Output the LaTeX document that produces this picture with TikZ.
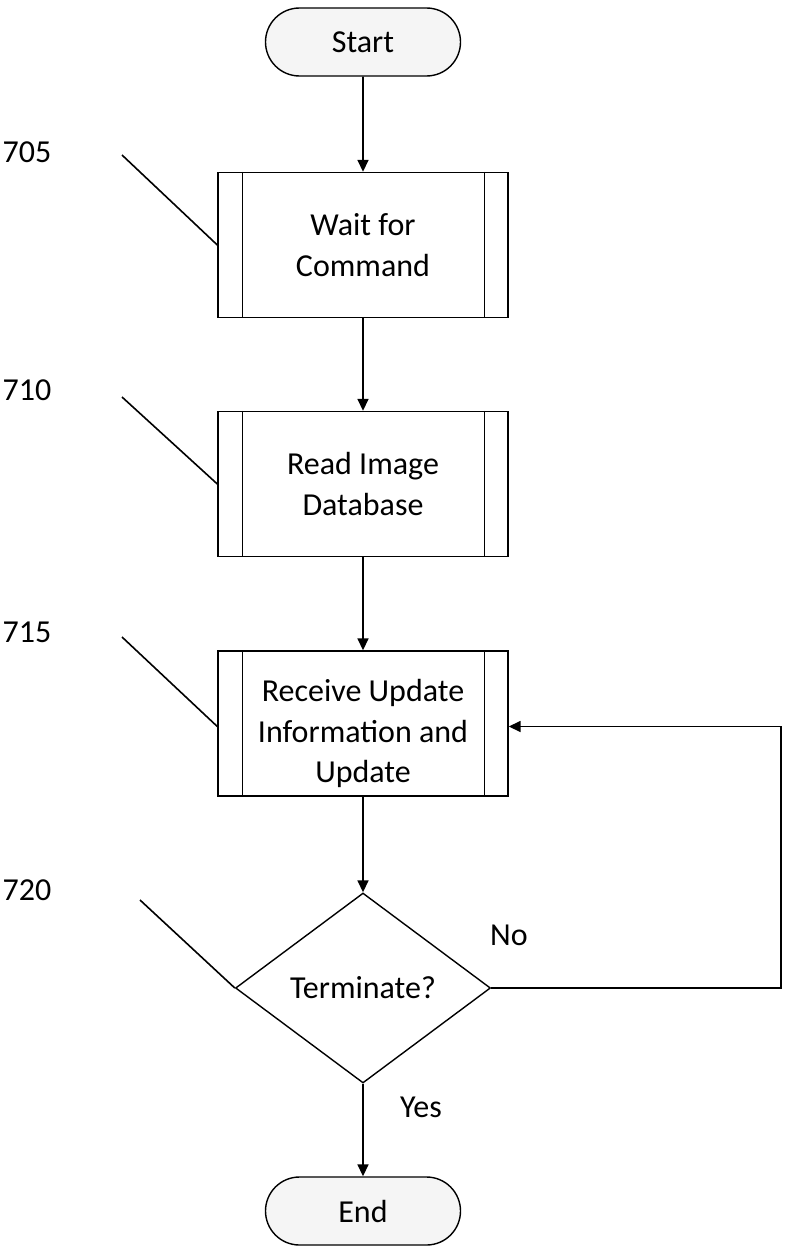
\documentclass[tikz,border=0pt]{standalone}
\usepackage{fontspec}
\setmainfont{Carlito}
\usetikzlibrary{shapes.geometric,shapes.misc,calc,arrows.meta}
\begin{document}
\begin{tikzpicture}[x=1pt,y=-1pt,
  every node/.style={font=\fontsize{32}{40.5}\selectfont},
  term/.style={draw, rounded rectangle, minimum width=195pt, minimum height=68pt,
    fill=black!4, line width=1.4pt, inner sep=0pt},
  proc/.style={draw, rectangle, minimum width=290pt, minimum height=145pt,
    align=center, line width=1.4pt, inner sep=0pt},
  decision/.style={draw, diamond, minimum width=255pt, minimum height=190pt,
    inner sep=0pt, line width=1.4pt},
  flow/.style={line width=1.6pt, -{Triangle[length=12pt,width=11pt]}},
  leader/.style={line width=1.6pt},
  bar/.style={line width=1.4pt}
]
\useasboundingbox (0,0) rectangle (798,1255);

% terminals, steps and decision
\node[term] (start) at (363,42) {Start};
\node[proc] (s705) at (363,245) {Wait for\\Command};
\node[proc] (s710) at (363,484) {Read Image\\Database};
\node[proc, label={[name=t715, align=center, yshift=-10pt]center:Receive Update\\Information and\\Update}]
  (s715) at (363,723.5) {};
\node[decision] (dec) at (363,988) {Terminate?};
\node[term] (end) at (363,1211) {End};

% predefined-process side bars
\foreach \b in {s705,s710,s715}{
  \draw[bar] ($(\b.north west)+(25,0)$) -- ($(\b.south west)+(25,0)$);
  \draw[bar] ($(\b.north east)+(-24,0)$) -- ($(\b.south east)+(-24,0)$);
}

% main flow
\draw[flow] (start) -- (s705);
\draw[flow] (s705) -- (s710);
\draw[flow] (s710) -- (s715);
\draw[flow] (s715) -- (dec);
\draw[flow] (dec) -- (end);

% "No" loop back to the update step
\coordinate (loop) at ($(s715.east)+(272,3)$);
\coordinate (entry) at ($(s715.east)+(0,3)$);
\draw[flow] (dec.east) -| (loop) -- (entry);

\node (no) at (509,935) {No};
\node (yes) at (421,1107) {Yes};

% reference numerals with leader lines
\node (n705) at (27,152) {705};
\node (n710) at (27,390) {710};
\node (n715) at (27,632) {715};
\node (n720) at (27,890) {720};
\coordinate (l705) at (122,155);
\coordinate (l710) at (122,397);
\coordinate (l715) at (122,637);
\coordinate (l720) at (140,900);
\coordinate (w715) at ($(s715.west)+(0,3)$);
\draw[leader] (l705) -- (s705.west);
\draw[leader] (l710) -- (s710.west);
\draw[leader] (l715) -- (w715);
\draw[leader] (l720) -- (dec.west);
\end{tikzpicture}
\end{document}
